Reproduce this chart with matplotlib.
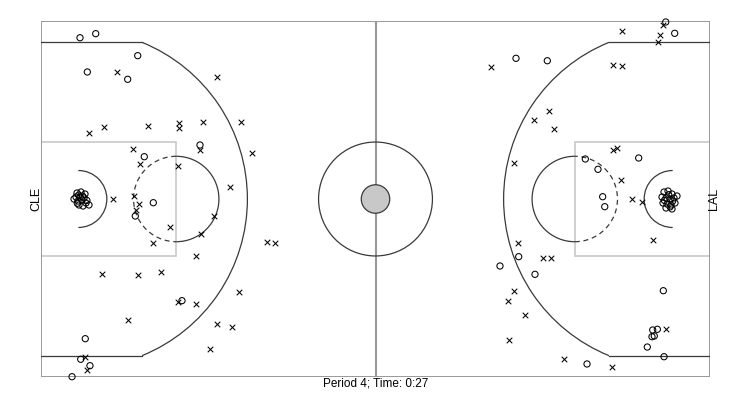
import numpy as np
import matplotlib.pyplot as plt
from matplotlib.patches import Circle, Arc, Rectangle

# shot locations in feet (court 94 x 50, y measured up from bottom sideline)
cle_made_x = [5.48, 7.69, 6.51, 12.18, 13.59, 14.51, 22.34, 15.78, 13.25, 19.81, 6.22, 5.58, 6.88, 4.36,
              5.06, 5.62, 6.18, 4.92, 5.48, 6.04, 5.20, 5.76, 6.32, 5.34, 5.90, 6.74, 4.64,
              5.30, 5.85, 6.45, 5.10]
cle_made_y = [47.65, 48.22, 42.84, 41.81, 45.13, 30.94, 32.58, 24.48, 22.61, 10.72, 5.38, 2.49, 1.59, 0.04,
              25.84, 25.98, 25.70, 25.28, 25.28, 25.14, 24.72, 24.86, 24.44, 24.16, 24.02, 24.16, 25.0,
              25.55, 25.40, 24.80, 24.40]
cle_miss_x = [10.72, 24.77, 8.85, 14.99, 19.39, 19.39, 22.83, 28.14, 6.79, 12.88, 13.91, 22.34, 19.29,
              29.61, 26.56, 10.16, 13.11, 13.73, 13.35, 24.35, 18.13, 22.52, 15.69, 21.78, 31.80, 32.88,
              8.61, 13.67, 16.86, 27.86, 19.25, 21.78, 12.22, 24.73, 26.88, 23.75, 6.14, 6.42]
cle_miss_y = [42.84, 42.09, 35.15, 35.21, 35.63, 35.04, 35.88, 35.81, 34.31, 32.06, 29.92, 31.88, 29.68,
              31.42, 26.64, 25.0, 25.46, 24.30, 23.46, 22.65, 21.11, 20.04, 18.86, 16.99, 19.00, 18.78,
              14.42, 14.37, 14.70, 11.94, 10.49, 10.29, 7.96, 7.44, 7.02, 3.97, 2.77, 0.98]

lal_made_x = [66.74, 71.14, 87.78, 89.04, 76.48, 83.98, 78.26, 78.92, 79.21, 67.12, 64.49, 69.41, 76.72,
              87.44, 85.95, 86.60, 85.85, 86.17, 85.19, 87.54,
              87.54, 88.10, 88.66, 87.26, 87.82, 88.38, 88.94, 87.40, 87.96, 88.52, 89.08, 87.82, 88.66, 89.36,
              88.20, 88.75, 87.60, 88.40]
lal_made_y = [44.76, 44.42, 49.86, 48.27, 30.62, 30.76, 29.17, 25.32, 23.92, 16.90, 15.59, 14.42, 1.83,
              12.12, 6.60, 6.70, 5.66, 5.76, 4.21, 2.85,
              25.98, 26.12, 25.70, 25.28, 25.14, 25.00, 25.14, 24.44, 24.30, 24.16, 24.44, 23.74, 23.60, 25.42,
              25.60, 24.70, 24.80, 23.90]
lal_miss_x = [63.19, 81.64, 80.41, 81.64, 87.44, 87.02, 86.65, 71.34, 69.31, 72.15, 66.46, 80.41, 80.89,
              81.54, 83.08, 84.45, 85.95, 67.02, 70.49, 71.62, 66.42, 65.58, 68.05, 65.76, 73.49, 80.23, 87.86]
lal_miss_y = [43.58, 48.64, 43.82, 43.72, 49.44, 48.03, 47.01, 37.40, 36.10, 34.90, 30.10, 31.88, 32.16,
              27.67, 25.0, 24.62, 19.24, 18.78, 16.78, 16.78, 12.08, 10.67, 8.71, 5.20, 2.49, 1.45, 6.70]

home_team = "CLE"
away_team = "LAL"
title = "Period 4; Time: 0:27"

LINE = "#3a3a3a"
GRAY = "#999999"
KEY = "#c8c8c8"


def half_court(ax, flip=False):
    # mirror x for the right side
    def fx(x):
        return 94 - x if flip else x
    bx = fx(5.25)
    ax.add_patch(Rectangle((min(fx(0), fx(19)), 17), 19, 16, fill=False, ec=KEY, lw=1.2))
    # free throw circle, solid away from basket, dashed toward it
    ftx = fx(19)
    if flip:
        ax.add_patch(Arc((ftx, 25), 12, 12, theta1=90, theta2=270, color=LINE, lw=0.9))
        ax.add_patch(Arc((ftx, 25), 12, 12, theta1=-90, theta2=90, color=LINE, lw=0.9, ls=(0, (4, 3))))
        ax.add_patch(Arc((bx, 25), 8, 8, theta1=90, theta2=270, color=LINE, lw=0.9))
    else:
        ax.add_patch(Arc((ftx, 25), 12, 12, theta1=-90, theta2=90, color=LINE, lw=0.9))
        ax.add_patch(Arc((ftx, 25), 12, 12, theta1=90, theta2=270, color=LINE, lw=0.9, ls=(0, (4, 3))))
        ax.add_patch(Arc((bx, 25), 8, 8, theta1=-90, theta2=90, color=LINE, lw=0.9))
    # three point line
    ang = np.degrees(np.arcsin(22 / 23.75))
    cx = bx + (-1 if flip else 1) * np.sqrt(23.75 ** 2 - 22 ** 2)
    ax.plot([fx(0), cx], [3, 3], color=LINE, lw=0.9)
    ax.plot([fx(0), cx], [47, 47], color=LINE, lw=0.9)
    if flip:
        ax.add_patch(Arc((bx, 25), 47.5, 47.5, theta1=180 - ang, theta2=180 + ang, color=LINE, lw=0.9))
    else:
        ax.add_patch(Arc((bx, 25), 47.5, 47.5, theta1=-ang, theta2=ang, color=LINE, lw=0.9))


fig = plt.figure(figsize=(7.52, 4.0), dpi=100)
ax = fig.add_axes([41 / 752, 23 / 400, 669 / 752, 356 / 400])
ax.set_xlim(0, 94)
ax.set_ylim(0, 50)
ax.axis("off")

half_court(ax)
half_court(ax, flip=True)
ax.plot([47, 47], [0, 50], color=GRAY, lw=1.5, zorder=1)
ax.add_patch(Circle((47, 25), 8, fill=False, ec=LINE, lw=0.9))
ax.add_patch(Circle((47, 25), 2, fc="#c8c8c8", ec=LINE, lw=0.9, zorder=2))
ax.add_patch(Rectangle((0, 0), 94, 50, fill=False, ec=GRAY, lw=1.4))

for xs, ys in [(cle_made_x, cle_made_y), (lal_made_x, lal_made_y)]:
    ax.scatter(xs, ys, marker="o", s=20, facecolors="none", edgecolors="black", linewidths=0.75, clip_on=False, zorder=3)
for xs, ys in [(cle_miss_x, cle_miss_y), (lal_miss_x, lal_miss_y)]:
    ax.scatter(xs, ys, marker="x", s=16, color="black", linewidths=0.75, clip_on=False, zorder=3)

font = ["Liberation Sans", "DejaVu Sans"]
ax.text(0.25, 25, home_team, rotation=90, ha="right", va="center", fontsize=9, family=font)
ax.text(93.75, 25, away_team, rotation=90, ha="left", va="center", fontsize=9, family=font)
ax.text(47, -0.1, title, ha="center", va="top", fontsize=8.5, family=font)

fig.savefig("out.png", dpi=100)
